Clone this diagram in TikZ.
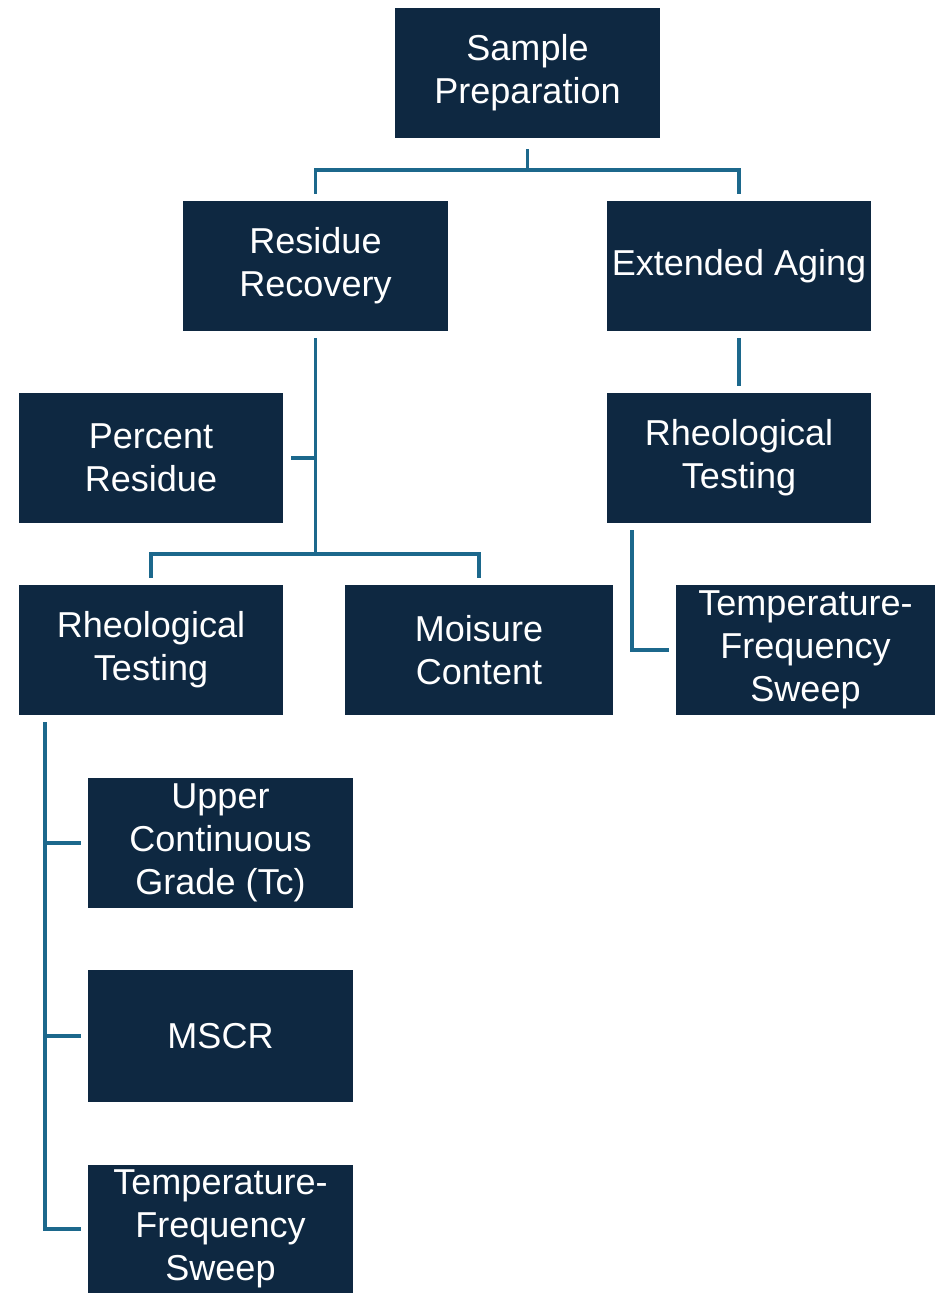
\documentclass[tikz,border=0pt]{standalone}
\usepackage{fontspec}
\setmainfont{Liberation Sans}
\usetikzlibrary{positioning,calc}
\definecolor{navy}{RGB}{14,40,65}
\definecolor{teal}{RGB}{28,104,140}
\begin{document}
\begin{tikzpicture}[x=0.02cm,y=-0.02cm,
  box/.style={fill=navy,text=white,align=center,inner sep=0pt,
    minimum width=5.3cm,minimum height=2.6cm,
    font=\fontsize{20.5}{24.5}\selectfont},
  conn/.style={draw=teal,line width=2.1pt,line cap=rect}]
\useasboundingbox (0,0) rectangle (935,1293);
\node[box] (prep) at (527.5,73) {Sample\\Preparation};
\node[box] (resrec) at (315.5,266) {Residue\\Recovery};
\node[box] (extaging) at (739,266) {Extended Aging};
\node[box] (percent) at (151,458) {Percent\\Residue};
\node[box] (rheoR) at (739,458) {Rheological\\Testing};
\node[box] (rheoL) at (151,650) {Rheological\\Testing};
\node[box,minimum width=5.36cm] (moist) at (479,650) {Moisure\\Content};
\node[box,minimum width=5.18cm] (tfsR) at (805.5,650) {Temperature-\\Frequency\\Sweep};
\node[box] (ucg) at (220.5,843) {Upper\\Continuous\\Grade (Tc)};
\node[box,minimum height=2.66cm] (mscr) at (220.5,1036) {MSCR};
\node[box,minimum height=2.56cm] (tfsB) at (220.5,1229) {Temperature-\\Frequency\\Sweep};
\coordinate (j1) at (527.5,170);
\coordinate (j2) at (315.5,554);
\coordinate (r1) at ([xshift=0.52cm]rheoR.south west);
\coordinate (l1) at ([xshift=0.54cm]rheoL.south west);
\draw[conn,shorten <=7pt] (prep.south) -- (j1);
\draw[conn,shorten >=5pt] (j1) -| (resrec.north);
\draw[conn,shorten >=5pt] (j1) -| (extaging.north);
\draw[conn,shorten <=5pt] (resrec.south) -- (j2);
\draw[conn,shorten <=5pt] (percent.east) -- (percent.east -| j2);
\draw[conn,shorten >=5pt] (j2) -| (rheoL.north);
\draw[conn,shorten >=5pt] (j2) -| (moist.north);
\draw[conn,shorten <=5pt,shorten >=5pt] (extaging) -- (rheoR);
\draw[conn,shorten <=5pt,shorten >=5pt] (r1) |- (tfsR.west);
\foreach \n in {ucg,mscr,tfsB}
  \draw[conn,shorten <=5pt,shorten >=5pt] (l1) |- (\n.west);
\end{tikzpicture}
\end{document}
